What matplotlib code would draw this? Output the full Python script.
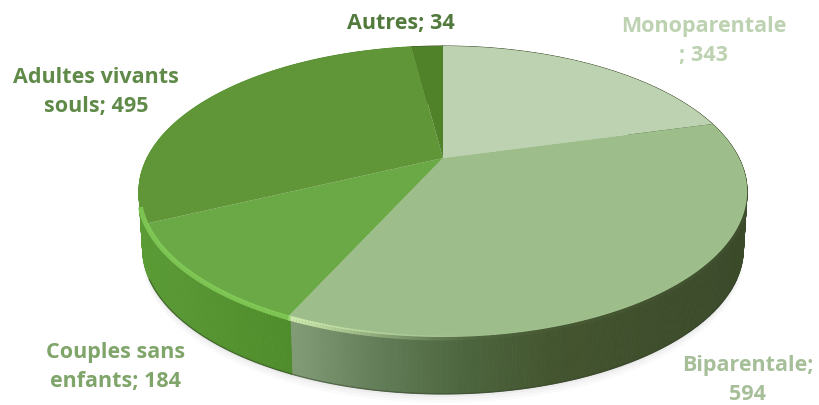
import numpy as np
import matplotlib
matplotlib.use("Agg")
import matplotlib.pyplot as plt
from matplotlib.path import Path
from matplotlib.transforms import Transform
from matplotlib.collections import PolyCollection, LineCollection

plt.rcParams['font.family'] = ['Open Sans', 'DejaVu Sans']

categories = ["Monoparentale", "Biparentale", "Couples sans enfants", "Adultes vivants souls", "Autres"]
values = [343, 594, 184, 495, 34]
face_colors = ["#bcd2b0", "#9dbe8b", "#6aa945", "#609637", "#4f8229"]
label_lines = ["Monoparentale\n; 343", "Biparentale;\n594", "Couples sans\nenfants; 184",
               "Adultes vivants\nsouls; 495", "Autres; 34"]
label_colors = ["#bcd2b0", "#a6bf99", "#80a56a", "#5f8a48", "#527a3c"]
label_xy = [(704, 41), (748, 380), (116, 367), (96, 92), (401, 24)]

# Perspective view of the disc, in pixel coordinates
CX, CY, A, B, K = 443.0, 158.0, 296.0, 137.8, 0.23
DEPTH = 57.0


def project(pts, z=0.0):
    pts = np.asarray(pts, dtype=float)
    w = 1 + K * pts[..., 1]
    scale = 1 - 0.012 * (z > 0)
    x = CX + scale * A * pts[..., 0] / w
    y = CY - B * pts[..., 1] / w + z
    return np.stack([x, y], axis=-1)


class DiscProjection(Transform):
    input_dims = output_dims = 2
    is_affine = False

    def transform_non_affine(self, values):
        return project(values)

    def transform_path_non_affine(self, path):
        verts = []
        ts = np.linspace(0, 1, 32)
        for bez, code in path.iter_bezier():
            if code == Path.MOVETO:
                verts.append(bez.control_points[0])
            else:
                verts.extend(bez(ts))
        return Path(project(np.array(verts)))


fig = plt.figure(figsize=(8.2, 4.05), dpi=100)
ax = fig.add_axes([0, 0, 1, 1])
wedges, _ = ax.pie(values, colors=face_colors, startangle=90, counterclock=False, radius=1,
                   wedgeprops=dict(linewidth=0))
proj = DiscProjection()
for w in wedges:
    w.set_transform(proj + ax.transData)
    w.set_zorder(5)
ax.set_aspect('auto')
ax.set_xlim(0, 820)
ax.set_ylim(405, 0)
ax.axis('off')

# Soft shadow beneath the disc
for grow, alpha in [(9, 0.04), (6, 0.05), (3, 0.07)]:
    th = np.radians(np.linspace(0, 360, 361))
    rim = project(np.c_[np.cos(th), np.sin(th)], DEPTH)
    ax.fill(rim[:, 0], rim[:, 1] + grow, color="#8a8a8a", alpha=alpha, lw=0, zorder=0.5)

# Side wall: shade per slice, following horizontal position
wall_x = {0: [100, 820], 1: [297, 370, 460, 550, 650, 760], 2: [140, 290], 3: [140, 290], 4: [100, 820]}
wall_rgb = {0: ["#3d4c2a", "#3d4c2a"],
            1: ["#7f9a74", "#647f5a", "#4d663f", "#43552f", "#3f4e2c", "#3a4a2a"],
            2: ["#5b9b36", "#4f8c2b"], 3: ["#5b9b36", "#4f8c2b"], 4: ["#3d4c2a", "#3d4c2a"]}
polys, cols = [], []
rim_segs, rim_cols = [], []
for i, w in enumerate(wedges):
    th = np.radians(np.arange(w.theta1, w.theta2 + 0.5, 0.5))
    unit = np.c_[np.cos(th), np.sin(th)]
    top, bot = project(unit), project(unit, DEPTH)
    rgb = np.array([matplotlib.colors.to_rgb(c) for c in wall_rgb[i]])
    for j in range(len(th) - 1):
        polys.append([top[j], top[j + 1], bot[j + 1], bot[j]])
        xm = top[j, 0]
        c = [np.interp(xm, wall_x[i], rgb[:, k]) for k in range(3)]
        cols.append(c)
        seg = [top[j] + [0, 1.0], top[j + 1] + [0, 1.0]]
        if i == 1:
            f = np.clip((480 - xm) / 185, 0, 1)
            rim_segs.append(seg)
            rim_cols.append((0.84, 0.95, 0.70, 0.03 + 0.85 * f ** 1.5))
        elif i in (2, 3) and top[j, 1] > 205:
            rim_segs.append(seg)
            rim_cols.append((0.53, 0.82, 0.36, 0.85))
ax.add_collection(PolyCollection(polys, facecolors=cols, edgecolors=cols, linewidths=0.6, zorder=2))
ax.add_collection(LineCollection(rim_segs, colors=rim_cols, linewidths=3.6, zorder=6))

# Dark lower edge of the wall
th = np.radians(np.linspace(205, 335, 131))
edge = project(np.c_[np.cos(th), np.sin(th)], DEPTH)
ax.plot(edge[:, 0], edge[:, 1], color="#33402a", lw=1.0, alpha=0.5, zorder=3)

for txt, col, (x, y) in zip(label_lines, label_colors, label_xy):
    ax.text(x, y, txt, color=col, fontsize=15.5, fontweight='bold', ha='center', va='center',
            linespacing=1.5, zorder=10)

fig.savefig("out.png", dpi=100)
